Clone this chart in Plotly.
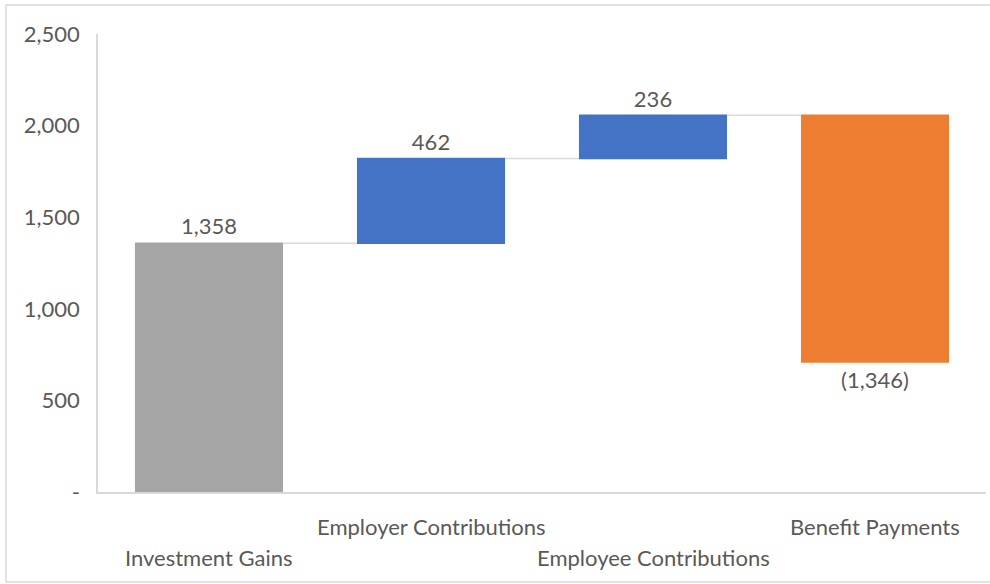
import plotly.graph_objects as go

# Pension fund flows
categories = ["Investment Gains", "Employer Contributions", "Employee Contributions", "Benefit Payments"]
values = [1358, 462, 236, -1346]
measures = ["absolute", "relative", "relative", "relative"]
y_ticks = [0, 500, 1000, 1500, 2000, 2500]
y_tick_labels = ["-", "500", "1,000", "1,500", "2,000", "2,500"]


def fmt(v):
    s = f"{abs(v):,}"
    return f"({s})" if v < 0 else s


FONT = "Lato, Open Sans, sans-serif"
FS = 22
GREY_TEXT = "#595959"
LINE = "#d9d9d9"

fig = go.Figure(
    go.Waterfall(
        x=categories,
        y=values,
        measure=measures,
        text=[fmt(v) for v in values],
        textposition="outside",
        textfont=dict(family=FONT, size=FS, color=GREY_TEXT),
        totals=dict(marker=dict(color="#a5a5a5", line=dict(width=0))),
        increasing=dict(marker=dict(color="#4472c4", line=dict(width=0))),
        decreasing=dict(marker=dict(color="#ed7d31", line=dict(width=0))),
        connector=dict(mode="between", line=dict(color=LINE, width=1.5)),
        cliponaxis=False,
        hoverinfo="skip",
    )
)

# Staggered category labels below the axis
for i, cat in enumerate(categories):
    fig.add_annotation(
        x=cat, y=0, xref="x", yref="paper",
        text=cat, showarrow=False,
        yanchor="top", yshift=-19 if i % 2 else -50,
        font=dict(family=FONT, size=FS, color=GREY_TEXT),
    )

# Chart frame
fig.add_shape(
    type="rect", xref="paper", yref="paper",
    x0=-0.1036, x1=1.01, y0=-0.1965, y1=1.0633,
    line=dict(color=LINE, width=1.5), fillcolor="rgba(0,0,0,0)",
    layer="below",
)

fig.update_layout(
    width=990, height=584,
    margin=dict(l=98, r=4, t=34, b=92),
    paper_bgcolor="white", plot_bgcolor="white",
    showlegend=False,
    waterfallgap=0.333,
    font=dict(family=FONT, size=FS, color=GREY_TEXT),
)
fig.update_xaxes(
    showticklabels=False, showgrid=False, zeroline=False,
    showline=True, linecolor=LINE, linewidth=1.5,
)
fig.update_yaxes(
    range=[0, 2500], tickvals=y_ticks, ticktext=y_tick_labels,
    showgrid=False, zeroline=False,
    showline=True, linecolor=LINE, linewidth=1.5,
    ticklabelstandoff=12,
    tickfont=dict(family=FONT, size=FS, color=GREY_TEXT),
)

fig.write_html("out.html")
